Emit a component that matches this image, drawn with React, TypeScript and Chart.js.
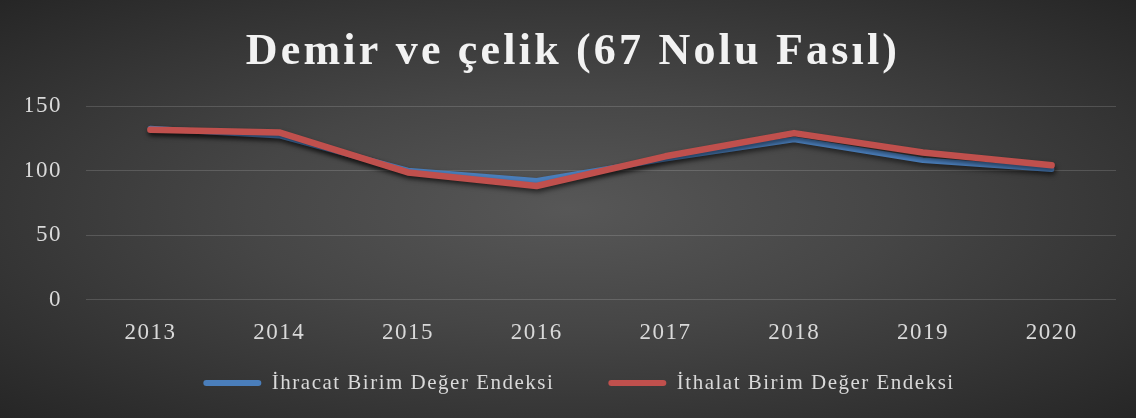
import React, { useEffect, useRef } from "react";
import { Chart, registerables } from "chart.js";

Chart.register(...registerables);

const chartTitle = "Demir ve çelik (67 Nolu Fasıl)";
const years = ["2013", "2014", "2015", "2016", "2017", "2018", "2019", "2020"];
const exportLabel = "İhracat Birim Değer Endeksi";
const importLabel = "İthalat Birim Değer Endeksi";
const exportIndex = [132.5, 127, 100, 92, 109, 124, 108, 101];
const importIndex = [131.5, 129.5, 98.5, 88, 111, 129, 114, 104];
const yMin = 0;
const yMax = 150;
const yStep = 50;

const SERIF = '"Liberation Serif", "Times New Roman", serif';

const spacingPlugin = {
  id: "spacing",
  beforeLayout(chart: any) {
    chart.ctx.letterSpacing = "1.5px";
  },
  beforeDraw(chart: any) {
    chart.ctx.letterSpacing = "1.5px";
  },
  beforeDatasetDraw(chart: any) {
    const ctx = chart.ctx;
    ctx.save();
    ctx.shadowColor = "rgba(0,0,0,0.55)";
    ctx.shadowBlur = 5;
    ctx.shadowOffsetX = 1;
    ctx.shadowOffsetY = 3;
  },
  afterDatasetDraw(chart: any) {
    chart.ctx.restore();
  },
  afterDraw(chart: any) {
    const ctx = chart.ctx;
    ctx.save();
    ctx.letterSpacing = "3.2px";
    ctx.font = `bold 44px ${SERIF}`;
    ctx.fillStyle = "#f2f2f2";
    ctx.textAlign = "center";
    ctx.textBaseline = "alphabetic";
    ctx.fillText(chartTitle, chart.width / 2 + 5, 64);
    ctx.restore();
  },
};

export default function App() {
  const ref = useRef<HTMLCanvasElement>(null);
  useEffect(() => {
    document.body.style.margin = "0";
    if (!ref.current) return;
    const chart = new Chart(ref.current, {
      type: "line",
      data: {
        labels: years,
        datasets: [
          {
            label: exportLabel,
            data: exportIndex,
            borderColor: "#4a7ebb",
            backgroundColor: "#4a7ebb",
            borderWidth: 5.5,
            pointRadius: 0,
            borderCapStyle: "round",
            borderJoinStyle: "round",
            tension: 0,
            order: 1,
          },
          {
            label: importLabel,
            data: importIndex,
            borderColor: "#c0504d",
            backgroundColor: "#c0504d",
            borderWidth: 6.5,
            pointRadius: 0,
            borderCapStyle: "round",
            borderJoinStyle: "round",
            tension: 0,
            order: 0,
          },
        ],
      },
      options: {
        animation: false,
        responsive: false,
        maintainAspectRatio: false,
        layout: { padding: { top: 106, left: 26, right: 4, bottom: 14.5 } },
        plugins: {
          title: { display: false },
          tooltip: { enabled: false },
          legend: {
            position: "bottom",
            labels: {
              color: "#d9d9d9",
              font: { family: SERIF, size: 21 },
              boxWidth: 58,
              boxHeight: 6,
              useBorderRadius: true,
              borderRadius: 3,
              padding: 54,
              sort: (a: any, b: any) => a.datasetIndex - b.datasetIndex,
              generateLabels: (c: any) =>
                c.data.datasets.map((ds: any, i: number) => ({
                  text: ds.label,
                  fillStyle: ds.borderColor,
                  strokeStyle: ds.borderColor,
                  lineWidth: 0,
                  borderRadius: 3,
                  fontColor: "#d9d9d9",
                  hidden: false,
                  datasetIndex: i,
                })),
            },
          },
        },
        scales: {
          x: {
            offset: true,
            grid: { display: false, drawTicks: false },
            border: { display: false },
            ticks: {
              color: "#d9d9d9",
              font: { family: SERIF, size: 23 },
              padding: -47.3,
              mirror: true,
              maxRotation: 0,
            },
            afterFit: (scale: any) => {
              scale.height = 19;
            },
          },
          y: {
            min: yMin,
            max: yMax,
            grid: { color: "rgba(255,255,255,0.15)", lineWidth: 1, drawTicks: false },
            border: { display: false },
            ticks: {
              stepSize: yStep,
              color: "#d9d9d9",
              font: { family: SERIF, size: 23 },
              padding: 24,
            },
            afterFit: (scale: any) => {
              scale.width = 60;
            },
          },
          yRight: {
            position: "right",
            display: true,
            grid: { display: false, drawTicks: false },
            border: { display: false },
            ticks: { display: false },
            afterFit: (scale: any) => {
              scale.width = 16;
            },
          },
        },
      },
      plugins: [spacingPlugin],
    } as any);
    return () => chart.destroy();
  }, []);
  return (
    <div
      style={{
        width: 1136,
        height: 418,
        background: "radial-gradient(ellipse at 50% 50%, #575757 0%, #464646 40%, #262626 100%)",
      }}
    >
      <canvas ref={ref} width={1136} height={418} style={{ display: "block" }} />
    </div>
  );
}
